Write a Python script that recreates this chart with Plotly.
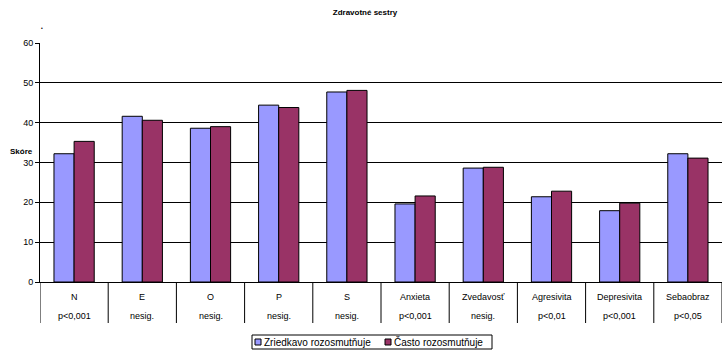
import plotly.graph_objects as go

# Personality scales and their significance labels
categories = ["N", "E", "O", "P", "S", "Anxieta", "Zvedavosť", "Agresivita", "Depresivita", "Sebaobraz"]
significance = ["p<0,001", "nesig.", "nesig.", "nesig.", "nesig.", "p<0,001", "nesig.", "p<0,01", "p<0,001", "p<0,05"]

# Mean scores per group
zriedkavo = [32.2, 41.6, 38.6, 44.4, 47.7, 19.6, 28.6, 21.4, 17.9, 32.2]
casto = [35.3, 40.6, 39.0, 43.8, 48.1, 21.6, 28.8, 22.8, 19.8, 31.1]

series_names = ["Zriedkavo rozosmutňuje", "Často rozosmutňuje"]
colors = ["#9999FF", "#993366"]

FONT = "Liberation Sans, Arial, sans-serif"
W, H = 722, 351
L, R, T, B = 40, 0, 43, 69
PW, PH = W - L - R, H - T - B


def px_x(px):
    return (px - L) / PW


def px_y(py):
    return (H - B - py) / PH


fig = go.Figure()
for name, vals, col in zip(series_names, [zriedkavo, casto], colors):
    fig.add_trace(go.Bar(
        x=list(range(len(categories))), y=vals, name=name,
        marker=dict(color=col, line=dict(color="black", width=1)),
        showlegend=False,
    ))

shapes = []
annotations = []

# Category table under the axis
for i, (cat, sig) in enumerate(zip(categories, significance)):
    annotations.append(dict(x=i, y=px_y(297), xref="x", yref="paper", text=cat,
                            yanchor="middle", showarrow=False,
                            font=dict(size=9, family=FONT, color="black")))
    annotations.append(dict(x=i, y=px_y(316), xref="x", yref="paper", text=sig,
                            yanchor="middle", showarrow=False,
                            font=dict(size=9, family=FONT, color="black")))
for i in range(len(categories) + 1):
    shapes.append(dict(type="line", xref="x", yref="paper", x0=i - 0.5, x1=i - 0.5,
                       y0=0, y1=px_y(323), line=dict(color="black", width=1)))

# Legend box
lx0, lx1, ly0, ly1 = 252, 492, 335, 349
shapes.append(dict(type="rect", xref="paper", yref="paper", x0=px_x(lx0), x1=px_x(lx1),
                   y0=px_y(ly1), y1=px_y(ly0), line=dict(color="black", width=1), fillcolor="white"))
for sx, col, name in [(255, colors[0], series_names[0]), (385, colors[1], series_names[1])]:
    shapes.append(dict(type="rect", xref="paper", yref="paper", x0=px_x(sx), x1=px_x(sx + 6),
                       y0=px_y(345), y1=px_y(339), line=dict(color="black", width=1), fillcolor=col))
    annotations.append(dict(x=px_x(sx + 7), y=px_y(342), xref="paper", yref="paper", text=name,
                            xanchor="left", yanchor="middle", showarrow=False,
                            font=dict(size=10, family=FONT, color="black")))

# Axis title and small marker above the axis
annotations.append(dict(x=px_x(8), y=px_y(151), xref="paper", yref="paper", text="<b>Skóre</b>",
                        xanchor="left", yanchor="middle", showarrow=False,
                        font=dict(size=8, family=FONT, color="black")))
annotations.append(dict(x=px_x(39), y=px_y(28), xref="paper", yref="paper", text="•",
                        yanchor="middle", showarrow=False,
                        font=dict(size=5, family=FONT, color="black")))

fig.update_layout(
    width=W, height=H,
    margin=dict(l=L, r=R, t=T, b=B),
    paper_bgcolor="white", plot_bgcolor="white",
    title=dict(text="<b>Zdravotné sestry</b>", x=365 / W, y=1 - 12 / H, xanchor="center",
               yanchor="middle", font=dict(size=8, family=FONT, color="black")),
    barmode="group", bargap=0.41, bargroupgap=0,
    shapes=shapes, annotations=annotations,
    xaxis=dict(range=[-0.5, len(categories) - 0.5], showticklabels=False, showgrid=False,
               zeroline=False, showline=True, linecolor="black", linewidth=1, ticks=""),
    yaxis=dict(range=[0, 60], dtick=10, showgrid=True, gridcolor="black", gridwidth=1,
               zeroline=False, showline=True, linecolor="black", linewidth=1,
               ticks="outside", ticklen=4, tickcolor="black",
               tickfont=dict(size=9, family=FONT, color="black")),
    font=dict(family=FONT),
)

fig.write_html("out.html")
